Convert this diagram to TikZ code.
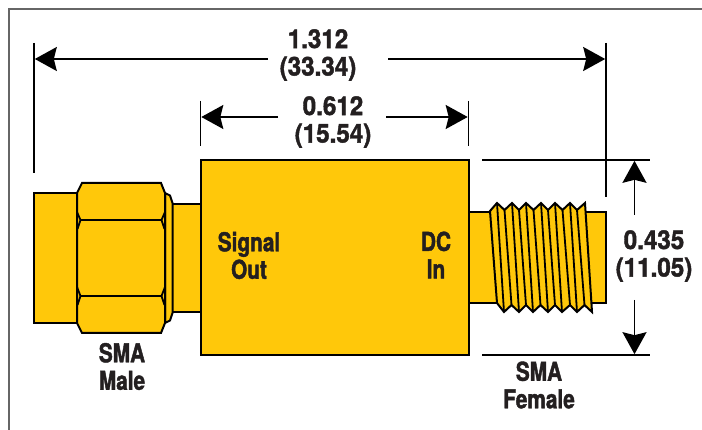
\documentclass[tikz,border=0pt]{standalone}
\usepackage{fontspec}
\setmainfont{TeX Gyre Heros}
\newfontfamily\wordfont{TeX Gyre Heros Bold}[FakeStretch=0.8,FakeBold=1.6]
\newfontfamily\numfont{TeX Gyre Heros Bold}[FakeStretch=0.93,FakeBold=1.6]
\usetikzlibrary{arrows.meta}
\definecolor{brass}{HTML}{FFC80A}
\definecolor{ink}{HTML}{231F20}
\tikzset{
  x=1pt,y=-1pt,
  part/.style={draw=black,fill=brass,line width=2pt,line join=miter},
  edge/.style={draw=black,line width=1.8pt},
  dim/.style={draw=black,line width=1.8pt},
  tipped/.style={dim,-{Stealth[length=22pt,width=24pt,inset=3pt]}},
  lab/.style={text=ink,align=center,inner sep=0pt,anchor=center},
  wordlab/.style={lab,font=\fontsize{26}{27.5}\selectfont\wordfont},
  numlab/.style={lab,font=\fontsize{26}{27.5}\selectfont\numfont}
}
\begin{document}
\begin{tikzpicture}
\useasboundingbox (0,0) rectangle (702,430);
\fill[white] (0,0) rectangle (702,430);
% frame
\draw[draw=black!60,line width=1.3pt] (9,430) -- (9,9) -- (702,9);
% male connector
\path[part] (34,193) rectangle (78,323);
\path[part] (172,204) rectangle (201,312);
\path[part] (165,193) -- (170,195.5) -- (172.5,203) -- (172.5,313) -- (170,320.5) -- (165,323) -- cycle;
\path[part] (82,183) -- (161,183) -- (165,193) -- (165,323) -- (161,333) -- (82,333) -- (77,323) -- (77,193) -- cycle;
\draw[edge] (77,212) -- (80.5,220) -- (77.5,229) (165,212) -- (161.5,220) -- (164.5,229);
\draw[edge] (77,287) -- (80.5,296) -- (77.5,305) (165,287) -- (161.5,296) -- (164.5,305);
\draw[edge] (80.5,220) -- (161.5,220) (80.5,296) -- (161.5,296);
% body
\path[part] (200.5,160) rectangle (468.5,355);
% female connector
\path[part] (469,212) rectangle (606,303);
\path[part] (490,211) -- (497,203) -- (504.5,210) -- (512,203) -- (519,210) -- (526,203) -- (533.5,210) -- (541,203) -- (548,210) -- (555,203) -- (562.5,210) -- (570,203) -- (577,210) -- (585,203)
  -- (592,312) -- (584.5,305) -- (577,312) -- (570,305) -- (562,312) -- (555,305) -- (548,312) -- (540.5,305) -- (533,312) -- (526,305) -- (519,312) -- (511.5,305) -- (504,312) -- (497,303) -- cycle;
\draw[edge]
  (497,203) -- (504,312) (504.5,210) -- (511.5,305)
  (512,203) -- (519,312) (519,210) -- (526,305)
  (526,203) -- (533,312) (533.5,210) -- (540.5,305)
  (541,203) -- (548,312) (548,210) -- (555,305)
  (555,203) -- (562,312) (562.5,210) -- (570,305)
  (570,203) -- (577,312) (577,210) -- (584.5,305);
% extension lines
\draw[dim] (34,43) -- (34,173);
\draw[dim] (606,43) -- (606,197);
\draw[dim] (200.5,101) -- (200.5,146);
\draw[dim] (468.5,101) -- (468.5,146);
\draw[dim] (482,160) -- (650,160);
\draw[dim] (482,355) -- (650,355);
% named ends of the dimension arrows
\coordinate (ovL) at (34.8,59); \coordinate (ovLb) at (268,59);
\coordinate (ovR) at (605.2,59); \coordinate (ovRb) at (388,59);
\coordinate (boL) at (201.3,117); \coordinate (boLb) at (278,117);
\coordinate (boR) at (467.7,117); \coordinate (boRb) at (386,117);
\coordinate (hT) at (634.5,160.8); \coordinate (hTb) at (634.5,215);
\coordinate (hB) at (634.5,354.2); \coordinate (hBb) at (634.5,300);
\draw[tipped] (ovLb) -- (ovL);
\draw[tipped] (ovRb) -- (ovR);
\draw[tipped] (boLb) -- (boL);
\draw[tipped] (boRb) -- (boR);
\draw[tipped] (hTb) -- (hT);
\draw[tipped] (hBb) -- (hB);
% labels
\node[numlab] (t1) at (318,55) {1.312\\(33.34)};
\node[numlab] (t2) at (333,122) {0.612\\(15.54)};
\node[wordlab] (t3) at (249,255.5) {Signal\\Out};
\node[wordlab] (t4) at (436,255) {DC\\In};
\node[wordlab] (t5) at (122,366.5) {SMA\\Male};
\node[wordlab] (t6) at (539,385) {SMA\\Female};
\node[numlab] (t7) at (654,256) {0.435\\(11.05)};
\end{tikzpicture}
\end{document}
